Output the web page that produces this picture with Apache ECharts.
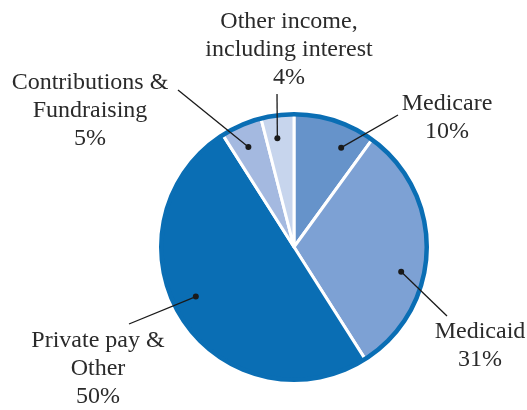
<!DOCTYPE html>
<html>
<head>
<meta charset="utf-8">
<script src="https://cdn.jsdelivr.net/npm/echarts@6/dist/echarts.min.js"></script>
<style>
  html, body { margin: 0; padding: 0; background: #ffffff; }
  #chart { width: 527px; height: 410px; }
</style>
</head>
<body>
<div id="chart"></div>
<script>
// ---- data ----
const categories = ['Medicare', 'Medicaid', 'Private pay & Other', 'Contributions & Fundraising', 'Other income, including interest'];
const labelNames = ['Medicare', 'Medicaid', 'Private pay &\nOther', 'Contributions &\nFundraising', 'Other income,\nincluding interest'];
const shares = [10, 31, 50, 5, 4];
const sliceColors = ['#6693CA', '#7DA1D4', '#0A6EB4', '#A4B9E0', '#C7D5ED'];

// ---- layout ----
const CX = 294, CY = 247, R = 134, DOT_R = 110;
const dotShift = [7.4, 11.2, 5.6, -1.1, -1.5];            // degrees, leader dot offset from slice middle
const labelPos = [[447, 118], [480, 346], [98, 369], [90, 111], [289, 50]];
const lineEnd  = [[398, 115], [447, 316], [129, 324], [178, 90], [277, 94]];
const TEXT_FONT = 'Liberation Serif';

const total = shares.reduce((a, b) => a + b, 0);
function dotPoint(i) {
  let before = 0;
  for (let k = 0; k < i; k++) before += shares[k];
  const a = ((before + shares[i] / 2) / total * 360 + dotShift[i]) * Math.PI / 180;
  return [CX + DOT_R * Math.sin(a), CY - DOT_R * Math.cos(a)];
}

const pieData = categories.map((c, i) => ({ name: c, value: shares[i], itemStyle: { color: sliceColors[i] } }));
const ghostData = categories.map((c, i) => ({ name: c, value: shares[i] }));

const chart = echarts.init(document.getElementById('chart'), null, { renderer: 'canvas' });
chart.setOption({
  animation: false,
  backgroundColor: '#ffffff',
  series: [
    {
      type: 'pie',
      z: 1,
      center: [CX, CY],
      radius: R,
      startAngle: 90,
      clockwise: true,
      silent: true,
      data: pieData,
      itemStyle: { borderColor: '#ffffff', borderWidth: 3 },
      label: { show: false },
      labelLine: { show: false }
    },
    {
      type: 'pie',
      z: 2,
      center: [CX, CY],
      radius: [R - 3.5, R + 1],
      silent: true,
      data: [{ value: 1, name: 'ring', itemStyle: { color: '#0A6EB4' } }],
      label: { show: false },
      labelLine: { show: false }
    },
    {
      type: 'pie',
      z: 5,
      center: [CX, CY],
      radius: DOT_R,
      startAngle: 90,
      silent: true,
      avoidLabelOverlap: false,
      data: ghostData,
      itemStyle: { color: 'rgba(0,0,0,0)', borderWidth: 0 },
      label: {
        show: true,
        position: 'outside',
        fontFamily: TEXT_FONT,
        fontSize: 24,
        lineHeight: 28,
        color: '#2a2a2a',
        formatter: p => labelNames[p.dataIndex] + '\n' + p.value + '%'
      },
      labelLine: { show: true, smooth: false, lineStyle: { color: '#1a1a1a', width: 1.3 } },
      labelLayout: p => ({
        x: labelPos[p.dataIndex][0],
        y: labelPos[p.dataIndex][1],
        align: 'center',
        verticalAlign: 'middle',
        labelLinePoints: [dotPoint(p.dataIndex), lineEnd[p.dataIndex]]
      })
    },
    {
      type: 'pie',
      z: 6,
      center: [CX, CY],
      radius: DOT_R,
      startAngle: 90,
      silent: true,
      avoidLabelOverlap: false,
      data: ghostData,
      itemStyle: { color: 'rgba(0,0,0,0)', borderWidth: 0 },
      label: {
        show: true,
        position: 'outside',
        formatter: '{d| }',
        rich: { d: { width: 6, height: 6, borderRadius: 3, backgroundColor: '#1a1a1a', fontSize: 1, lineHeight: 6 } }
      },
      labelLine: { show: false },
      labelLayout: p => {
        const pt = dotPoint(p.dataIndex);
        return { x: pt[0], y: pt[1], align: 'center', verticalAlign: 'middle' };
      }
    }
  ]
});
</script>
</body>
</html>
